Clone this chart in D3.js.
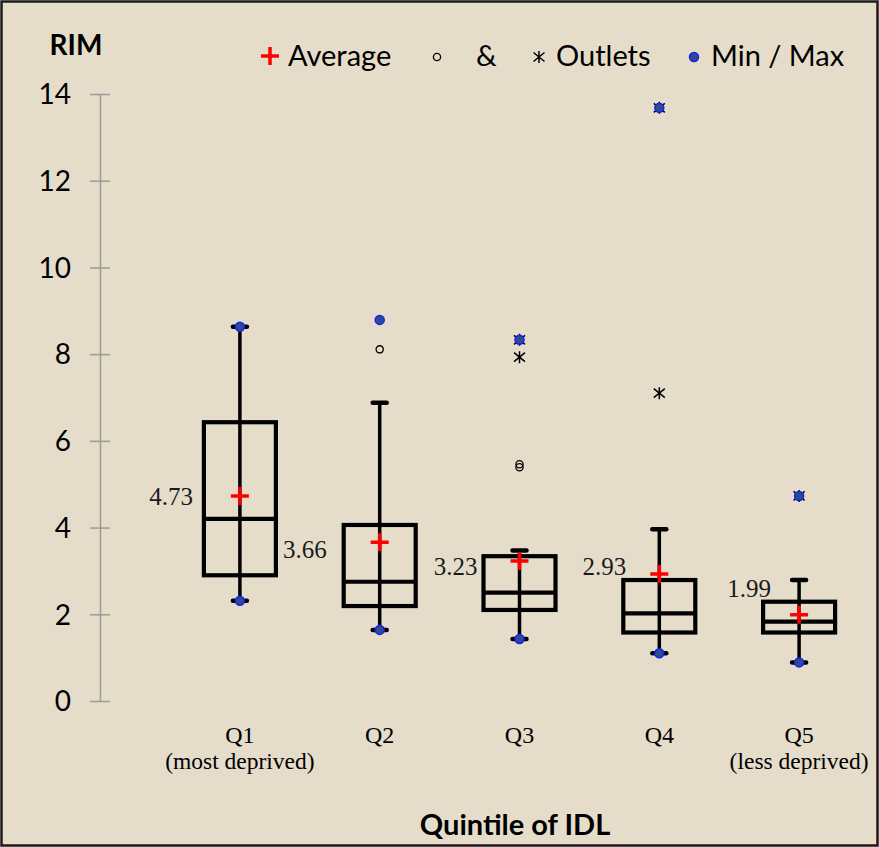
<!DOCTYPE html>
<html>
<head>
<meta charset="utf-8">
<script src="https://cdn.jsdelivr.net/npm/d3@7"></script>
<style>
  html, body { margin: 0; padding: 0; background: #fff; }
  svg { display: block; }
</style>
</head>
<body>
<main></main>
<script>
// data
const categories = ["Q1", "Q2", "Q3", "Q4", "Q5"];
const subLabels = ["(most deprived)", "", "", "", "(less deprived)"];
const lowerQuartile = [2.90, 2.19, 2.10, 1.58, 1.58];
const medians = [4.20, 2.75, 2.50, 2.02, 1.83];
const upperQuartile = [6.43, 4.06, 3.34, 2.79, 2.29];
const whiskerLow = [2.31, 1.64, 1.43, 1.10, 0.89];
const whiskerHigh = [8.63, 6.88, 3.47, 3.96, 2.79];
const means = [4.73, 3.66, 3.23, 2.93, 1.99];
const minValues = [2.31, 1.64, 1.43, 1.10, 0.89];
const maxValues = [8.63, 8.79, 8.33, 13.68, 4.73];
const circleOutliers = [[], [8.11], [5.46, 5.39], [], []];
const starOutliers = [[], [], [8.33, 7.93], [13.68, 7.10], [4.73]];
const yTicks = [0, 2, 4, 6, 8, 10, 12, 14];

// small nudges for the mean labels (px), like the original
const labelGap = [11, 17, 6, -3, -8];
const labelDy = [0, 7, 5, -8, -26];

const W = 879, H = 847;
const sans = "Lato, 'Open Sans', sans-serif";
const serif = "'Liberation Serif', 'DejaVu Serif', serif";

const svg = d3.select("main")
  .append("svg")
  .attr("width", W)
  .attr("height", H);

svg.append("rect")
  .attr("x", 1.5).attr("y", 1.5)
  .attr("width", W - 3).attr("height", H - 3)
  .attr("fill", "#E5DDCA")
  .attr("stroke", "#1a1a1a")
  .attr("stroke-width", 2.5);

const x = d3.scaleBand().domain(categories).range([170, 869]);
const y = d3.scaleLinear().domain([0, 14]).range([701, 94]);
const boxW = 72;
const cx = (i) => x(categories[i]) + x.bandwidth() / 2;

// y axis
const axis = svg.append("g").attr("transform", "translate(100,0)")
  .call(d3.axisLeft(y).tickValues(yTicks).tickSize(0).tickPadding(29));
axis.select(".domain").attr("stroke", "#9a9a9a").attr("stroke-width", 1.5);
axis.selectAll(".tick line").remove();
axis.selectAll(".tick").append("line")
  .attr("x1", -10).attr("x2", 10)
  .attr("stroke", "#9a9a9a").attr("stroke-width", 1.5);
axis.selectAll(".tick text")
  .attr("font-family", sans).attr("font-size", 28).attr("fill", "#000")
  .attr("dy", "0.35em");

svg.append("text")
  .attr("x", 76).attr("y", 55)
  .attr("text-anchor", "middle")
  .attr("font-family", sans).attr("font-weight", "bold").attr("font-size", 28)
  .text("RIM");

// x labels
const xl = svg.append("g");
categories.forEach((c, i) => {
  xl.append("text")
    .attr("x", cx(i)).attr("y", 743)
    .attr("text-anchor", "middle")
    .attr("font-family", serif).attr("font-size", 24)
    .text(c);
  if (subLabels[i]) {
    xl.append("text")
      .attr("x", cx(i)).attr("y", 769)
      .attr("text-anchor", "middle")
      .attr("font-family", serif).attr("font-size", 23.5)
      .text(subLabels[i]);
  }
});

svg.append("text")
  .attr("x", 515).attr("y", 835)
  .attr("text-anchor", "middle")
  .attr("font-family", sans).attr("font-weight", "bold").attr("font-size", 29)
  .text("Quintile of IDL");

// boxes
const idx = d3.range(categories.length);
const g = svg.append("g");

// whiskers
g.selectAll(".whisker").data(idx).enter().append("line")
  .attr("class", "whisker")
  .attr("x1", cx).attr("x2", cx)
  .attr("y1", (i) => y(whiskerLow[i]))
  .attr("y2", (i) => y(whiskerHigh[i]))
  .attr("stroke", "#000").attr("stroke-width", 3.5);

[whiskerLow, whiskerHigh].forEach((arr) => {
  g.selectAll(null).data(idx).enter().append("line")
    .attr("x1", (i) => cx(i) - 7).attr("x2", (i) => cx(i) + 7)
    .attr("y1", (i) => y(arr[i])).attr("y2", (i) => y(arr[i]))
    .attr("stroke", "#000").attr("stroke-width", 4.5)
    .attr("stroke-linecap", "round");
});

g.selectAll(".box").data(idx).enter().append("rect")
  .attr("class", "box")
  .attr("x", (i) => cx(i) - boxW / 2)
  .attr("y", (i) => y(upperQuartile[i]))
  .attr("width", boxW)
  .attr("height", (i) => y(lowerQuartile[i]) - y(upperQuartile[i]))
  .attr("fill", "none")
  .attr("stroke", "#000").attr("stroke-width", 4.2);

g.selectAll(".median").data(idx).enter().append("line")
  .attr("class", "median")
  .attr("x1", (i) => cx(i) - boxW / 2).attr("x2", (i) => cx(i) + boxW / 2)
  .attr("y1", (i) => y(medians[i])).attr("y2", (i) => y(medians[i]))
  .attr("stroke", "#000").attr("stroke-width", 4.2);

// outliers
const starPath = "M0,-6V6M-5.5,-4.5L5.5,4.5M-5.5,4.5L5.5,-4.5";
idx.forEach((i) => {
  circleOutliers[i].forEach((v) => {
    g.append("circle")
      .attr("cx", cx(i)).attr("cy", y(v)).attr("r", 3.6)
      .attr("fill", "none").attr("stroke", "#000").attr("stroke-width", 1.3);
  });
  starOutliers[i].forEach((v) => {
    g.append("path")
      .attr("transform", `translate(${cx(i)},${y(v)})`)
      .attr("d", starPath)
      .attr("fill", "none").attr("stroke", "#000").attr("stroke-width", 1.5);
  });
});

// min / max dots
[minValues, maxValues].forEach((arr) => {
  g.selectAll(null).data(idx).enter().append("circle")
    .attr("cx", cx).attr("cy", (i) => y(arr[i])).attr("r", 4.5)
    .attr("fill", "#2B4E86").attr("stroke", "#1a1aff").attr("stroke-width", 1.5);
});

// means
const plus = "M-9,0H9M0,-9V9";
g.selectAll(".mean").data(idx).enter().append("path")
  .attr("class", "mean")
  .attr("transform", (i) => `translate(${cx(i)},${y(means[i])})`)
  .attr("d", plus)
  .attr("stroke", "#ff0000").attr("stroke-width", 3.5);

g.selectAll(".meanLabel").data(idx).enter().append("text")
  .attr("class", "meanLabel")
  .attr("x", (i) => cx(i) - boxW / 2 - labelGap[i])
  .attr("y", (i) => y(means[i]) + labelDy[i])
  .attr("dy", "0.35em")
  .attr("text-anchor", "end")
  .attr("font-family", serif).attr("font-size", 25)
  .attr("fill", "#1a1a1a")
  .text((i) => means[i].toFixed(2));

// legend
const lg = svg.append("g").attr("font-family", sans).attr("font-size", 29);
lg.append("path").attr("transform", "translate(270,56)").attr("d", plus)
  .attr("stroke", "#ff0000").attr("stroke-width", 3.5);
lg.append("text").attr("x", 288).attr("y", 66).text("Average");
lg.append("circle").attr("cx", 437).attr("cy", 57).attr("r", 3.6)
  .attr("fill", "none").attr("stroke", "#000").attr("stroke-width", 1.3);
lg.append("text").attr("x", 476).attr("y", 66).text("&");
lg.append("path").attr("transform", "translate(539,57)").attr("d", starPath)
  .attr("fill", "none").attr("stroke", "#000").attr("stroke-width", 1.5);
lg.append("text").attr("x", 556).attr("y", 66).text("Outlets");
lg.append("circle").attr("cx", 694).attr("cy", 57).attr("r", 4.5)
  .attr("fill", "#2B4E86").attr("stroke", "#1a1aff").attr("stroke-width", 1.5);
lg.append("text").attr("x", 711).attr("y", 66).text("Min / Max");
</script>
</body>
</html>
